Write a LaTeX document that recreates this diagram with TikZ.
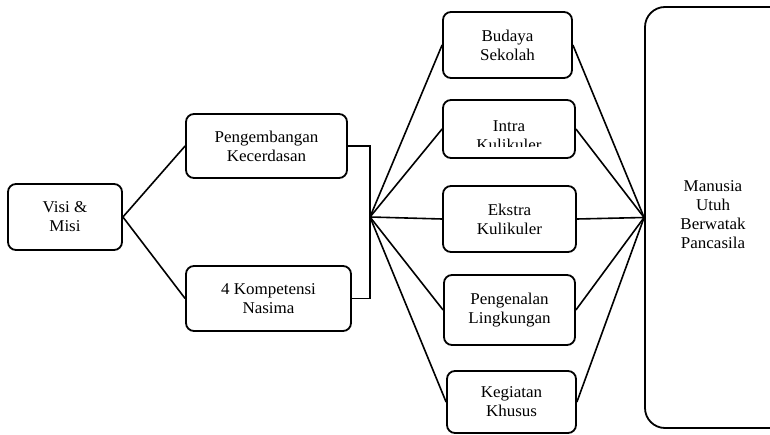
\documentclass[tikz,border=0pt]{standalone}
\usepackage{fontspec}
\setmainfont{Liberation Serif}[FakeStretch=1.03]
\begin{document}
\begin{tikzpicture}[x=1pt,y=-1pt,
  box/.style={draw,line width=1.8pt,rounded corners=8pt,inner sep=0pt,align=center,
    font=\fontsize{16.5}{19}\selectfont},
  txt/.style={inner sep=0pt,align=center,font=\fontsize{16.5}{19}\selectfont},
  conn/.style={line width=1.6pt}]
\useasboundingbox (0,0) rectangle (770,435);
\clip (0,0) rectangle (770,435);
\node[box,minimum width=114pt,minimum height=66pt] (visi) at (65,217) {Visi \&\\Misi};
\node[box,minimum width=161pt,minimum height=64pt] (peng) at (266.5,146) {Pengembangan\\Kecerdasan};
\node[box,minimum width=165pt,minimum height=65pt] (komp) at (268.5,298.5) {4 Kompetensi\\Nasima};
\node[box,minimum width=129pt,minimum height=66pt] (bud) at (507.5,45) {Budaya\\Sekolah};
\node[box,minimum width=132pt,minimum height=58pt] (intra) at (509,129) {};
\begin{scope}
\clip (443,100) rectangle (575,147);
\node[txt] (intratxt) at (509,136) {Intra\\Kulikuler};
\end{scope}
\node[box,minimum width=133pt,minimum height=66pt] (eks) at (509.5,219) {Ekstra\\Kulikuler};
\node[box,minimum width=131pt,minimum height=70pt] (pen) at (509.5,310) {Pengenalan\\Lingkungan};
\node[box,minimum width=129pt,minimum height=62pt] (keg) at (511.5,402) {Kegiatan\\Khusus};
\node[box,rounded corners=20pt,minimum width=155pt,minimum height=421pt] (man) at (722.5,217.5) {};
\node[txt] (mantxt) at (713,215) {Manusia\\Utuh\\Berwatak\\Pancasila};
\coordinate (hub) at (370,217);
\draw[conn] (visi.east) -- (peng.west);
\draw[conn] (visi.east) -- (komp.west);
\draw[conn] (peng.east) -| (hub) |- (komp.east);
\foreach \n in {bud,intra,eks,pen,keg}{
  \draw[conn] (hub) -- (\n.west);
  \draw[conn] (\n.east) -- (man.west);
}
\end{tikzpicture}
\end{document}
